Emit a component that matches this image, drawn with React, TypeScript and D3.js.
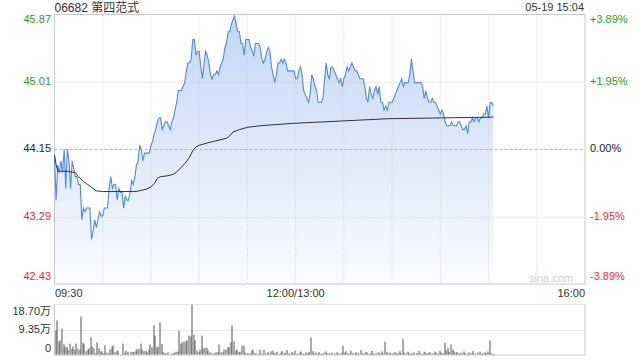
import React from "react";
import * as d3 from "d3";

// ---------- data ----------
const title = "06682 第四范式";
const stamp = "05-19 15:04";
const prevClose = 44.15;
const priceTicks = [45.87, 45.01, 44.15, 43.29, 42.43];
const pctTicks = ["+3.89%", "+1.95%", "0.00%", "-1.95%", "-3.89%"];
const timeLabels = ["09:30", "12:00/13:00", "16:00"];
const timeLabelMinutes = [0, 150, 330];
const sessionMinutes = 330;
const volTicks = [18.7, 9.35, 0];
const volTickLabels = ["18.70万", "9.35万", "0"];

// per-minute last price from 09:30
const prices = [
  44.05, 43.5, 43.95, 43.85, 44.0, 43.85, 44.15, 43.65, 44.15, 44.0,
  43.65, 44.0, 43.9, 43.8, 43.8, 43.7, 43.7, 43.25, 43.4, 43.35,
  43.4, 43.4, 43.4, 43.0, 43.1, 43.25, 43.15, 43.25, 43.35, 43.3,
  43.3, 43.4, 43.4, 43.4, 43.65, 43.8, 43.65, 43.7, 43.7, 43.5,
  43.65, 43.6, 43.6, 43.4, 43.55, 43.5, 43.5, 43.6, 43.75, 43.7,
  43.8, 43.95, 44.0, 44.2, 44.15, 44.0, 44.1, 44.1, 44.1, 44.1,
  44.2, 44.25, 44.35, 44.4, 44.5, 44.55, 44.55, 44.4, 44.45, 44.5,
  44.5, 44.45, 44.4, 44.5, 44.55, 44.65, 44.75, 44.9, 44.9, 44.9,
  44.95, 45.0, 45.15, 45.25, 45.25, 45.3, 45.55, 45.55, 45.35, 45.4,
  45.4, 45.2, 45.05, 45.25, 45.4, 45.35, 45.25, 45.1, 45.05, 45.1,
  45.1, 45.15, 45.1, 45.2, 45.25, 45.3, 45.45, 45.5, 45.65, 45.65,
  45.75, 45.8, 45.85, 45.75, 45.65, 45.65, 45.5, 45.5, 45.35, 45.55,
  45.55, 45.55, 45.45, 45.4, 45.35, 45.5, 45.5, 45.5, 45.45, 45.3,
  45.25, 45.3, 45.4, 45.45, 45.4, 45.2, 45.1, 45.0, 45.1, 45.25,
  45.25, 45.3, 45.25, 45.3, 45.25, 45.15, 45.15, 45.15, 45.15, 45.15,
  45.05, 45.05, 45.15, 45.2, 45.1, 44.9, 44.85, 44.8, 44.75, 44.85,
  45.1, 45.05, 44.95, 44.9, 44.75, 44.75, 44.75, 44.8, 45.05, 45.25,
  45.1, 45.05, 45.2, 45.2, 45.15, 45.1, 45.05, 45.0, 45.05, 44.95,
  45.05, 45.1, 45.2, 45.15, 45.2, 45.25, 45.2, 45.15, 45.15, 45.1,
  45.05, 45.05, 45.05, 44.95, 44.8, 44.75, 44.95, 44.85, 44.8, 44.9,
  44.95, 44.85, 44.95, 44.75, 44.75, 44.65, 44.7, 44.65, 44.75, 44.75,
  44.75, 44.8, 44.85, 44.9, 44.95, 45.0, 45.05, 44.95, 45.0, 45.0,
  45.0, 45.1, 45.3, 45.15, 45.0, 45.0, 45.0, 45.0, 45.0, 44.95,
  44.8, 44.9, 44.8, 44.75, 44.75, 44.8, 44.75, 44.75, 44.7, 44.65,
  44.6, 44.65, 44.6, 44.5, 44.45, 44.45, 44.45, 44.5, 44.45, 44.45,
  44.45, 44.5, 44.5, 44.45, 44.4, 44.4, 44.45, 44.35, 44.5, 44.5,
  44.55, 44.5, 44.55, 44.55, 44.5, 44.55, 44.55, 44.6, 44.6, 44.7,
  44.55, 44.75, 44.75, 44.7,
];

// average price line, read at these minutes
const avgMinutes = [0, 1, 2, 8, 13, 15, 18, 20, 22, 24, 26, 30, 50, 53, 57, 60, 62, 64, 66, 70, 74, 76, 78, 82, 84, 86, 88, 90, 95, 99, 103, 107, 109, 111, 115, 120, 128, 148, 168, 188, 208, 240, 273];
const avgPrices = [44.08, 43.95, 43.87, 43.87, 43.85, 43.8, 43.74, 43.71, 43.68, 43.65, 43.62, 43.61, 43.61, 43.62, 43.64, 43.67, 43.71, 43.78, 43.8, 43.81, 43.83, 43.86, 43.9, 43.99, 44.05, 44.13, 44.18, 44.2, 44.23, 44.25, 44.27, 44.29, 44.32, 44.37, 44.4, 44.43, 44.45, 44.48, 44.5, 44.52, 44.54, 44.55, 44.56];

// per-minute volume (万股)
const volumes = [
  9.1, 12.8, 5.0, 5.4, 9.7, 3.9, 2.9, 3.0, 1.9, 4.2,
  2.2, 3.2, 2.0, 4.2, 2.4, 2.0, 14.3, 4.6, 4.2, 1.4,
  2.0, 2.5, 6.5, 3.1, 2.5, 0.7, 4.6, 2.5, 1.5, 1.0,
  0.7, 3.6, 0.9, 0.5, 2.0, 3.1, 3.5, 1.0, 1.6, 1.4,
  0.25, 0.1, 4.2, 0.7, 1.6, 1.2, 0.25, 1.1, 1.2, 1.0,
  1.6, 2.2, 2.2, 4.2, 2.0, 1.5, 1.6, 1.0, 2.0, 3.9,
  2.9, 11.0, 7.2, 2.9, 3.1, 12.1, 4.1, 1.2, 0.7, 0.5,
  1.0, 0.1, 0.4, 0.6, 0.9, 1.2, 1.2, 8.9, 4.1, 4.7,
  5.0, 5.0, 5.4, 7.2, 6.9, 18.7, 7.5, 5.4, 1.6, 1.0,
  1.9, 7.2, 2.5, 2.7, 2.7, 1.6, 1.0, 0.5, 0.6, 0.5,
  1.0, 1.0, 3.9, 1.0, 0.9, 2.0, 2.0, 2.9, 2.9, 4.7,
  11.0, 5.1, 1.6, 2.1, 1.0, 1.2, 3.5, 3.4, 0.9, 0.4,
  0.7, 0.6, 1.6, 1.9, 0.6, 0.6, 0.4, 1.9, 0.6, 0.4,
  1.9, 0.6, 1.1, 0.5, 1.4, 1.6, 0.8,
  0.6, 1.2, 0.4, 0.9, 1.5, 0.5, 0.8, 1.9, 0.6, 0.4, 1.1, 0.7, 1.6, 0.5, 0.3, 0.9, 1.3, 0.6, 0.4, 1.0, 0.7, 1.2,
  6.5,
  1.4, 0.6, 0.9, 0.4, 1.1, 0.5, 0.3, 0.8, 1.3, 0.6, 0.4, 0.7, 0.9, 0.3, 0.5, 1.0, 0.6, 0.4, 0.8,
  3.4,
  0.9, 1.4, 0.6, 0.5, 1.6, 0.8, 0.4, 1.1, 0.7, 0.3, 1.8, 0.6, 0.5, 1.2, 0.9, 0.4, 0.7, 1.5, 0.6, 0.3, 0.8, 1.0, 0.5, 1.3, 0.7,
  4.9,
  1.2, 0.6, 0.9, 0.4, 0.7, 1.1, 0.5, 0.8, 1.4, 0.6,
  5.9,
  0.9, 0.5, 1.2, 0.7, 0.4, 0.6, 1.0, 0.3, 0.8, 1.5, 0.6, 0.4, 0.9, 1.2, 0.5, 0.7, 1.1, 0.4, 0.6, 1.3, 0.8, 0.5, 1.6, 0.9, 0.7,
  4.6, 1.8, 2.7, 1.2, 4.0,
  2.1, 1.4, 0.8, 1.1, 0.6, 0.9, 0.5, 1.3, 0.7, 0.4, 1.0, 0.6, 0.8, 1.5, 0.5, 0.3, 0.9, 1.2, 0.6, 0.4, 1.0, 0.7, 1.3,
  5.3, 0.6, 0.4, 0.3,
];

// ---------- layout ----------
const W = 640;
const H = 360;
const L = 54.5;
const R = 585;
const T = 14.5;
const B = 284;
const VT = 304.5;
const VB = 355;
const FONT = "'Liberation Sans', Arial, 'Noto Sans CJK SC', sans-serif";
const UP = "#1f9e1f";
const DOWN = "#ee2b2b";
const GRID = "#cfcfcf";

export default function App() {
  const x = d3.scaleLinear().domain([0, sessionMinutes]).range([L, R]);
  const y = d3.scaleLinear().domain([priceTicks[4], priceTicks[0]]).range([B, T]);
  const yv = d3.scaleLinear().domain([0, volTicks[0]]).range([VB, VT]);

  const line = d3.line<number>().x((_, i) => x(i)).y((d) => y(d));
  const area = d3.area<number>().x((_, i) => x(i)).y0(B).y1((d) => y(d));
  const avgLine = d3
    .line<number>()
    .x((_, i) => x(avgMinutes[i]))
    .y((d) => y(d));

  const vGrid = d3.range(30, sessionMinutes, 30);

  const colorFor = (i: number) => (i < 2 ? UP : i === 2 ? "#222" : DOWN);
  const clampY = (v: number) => Math.min(Math.max(y(v), T + 6), B - 7);

  return (
    <svg
      width={W}
      height={H}
      style={{ position: "absolute", left: 0, top: 0, background: "#fff" }}
      fontFamily={FONT}
    >
      <defs>
        <linearGradient id="fillGrad" gradientUnits="userSpaceOnUse" x1="0" y1={T} x2="0" y2={B}>
          <stop offset="0" stopColor="#c4d6f6" />
          <stop offset="1" stopColor="#fafcff" />
        </linearGradient>
      </defs>

      {/* area + grid */}
      <path d={area(prices) || ""} fill="url(#fillGrad)" />
      {vGrid.map((m) => (
        <line key={m} x1={x(m)} x2={x(m)} y1={T} y2={B} stroke={GRID} strokeDasharray="1,2" />
      ))}
      {priceTicks.slice(1, 4).map((p) => (
        <line
          key={p}
          x1={L}
          x2={R}
          y1={Math.round(y(p)) + 0.5}
          y2={Math.round(y(p)) + 0.5}
          stroke={p === prevClose ? "#b5b5b5" : GRID}
          strokeDasharray={p === prevClose ? "3,2" : "1,2"}
        />
      ))}
      <rect x={L} y={T} width={R - L} height={B - T} fill="none" stroke="#c8c8c8" />

      <text x={R - 12} y={B - 2} fontSize={11} fill="#d0d0d0" textAnchor="end">
        sina.com
      </text>

      {/* lines */}
      <path d={line(prices) || ""} fill="none" stroke="#4f88ea" strokeWidth={1.1} />
      <path d={avgLine(avgPrices) || ""} fill="none" stroke="#333" strokeWidth={1} />

      {/* header */}
      <text x={L} y={12} fontSize={12} fill="#333">
        {title}
      </text>
      <text x={R - 1} y={10.5} fontSize={11} fill="#333" textAnchor="end">
        {stamp}
      </text>

      {/* price axes */}
      {priceTicks.map((p, i) => (
        <text
          key={"l" + p}
          x={51}
          y={clampY(p)}
          fontSize={11}
          fill={colorFor(i)}
          textAnchor="end"
          dominantBaseline="middle"
        >
          {p.toFixed(2)}
        </text>
      ))}
      {pctTicks.map((t, i) => (
        <text
          key={"r" + t}
          x={590}
          y={clampY(priceTicks[i])}
          fontSize={11}
          fill={colorFor(i)}
          dominantBaseline="middle"
        >
          {t}
        </text>
      ))}

      {/* time axis */}
      {timeLabels.map((t, i) => (
        <text
          key={t}
          x={x(timeLabelMinutes[i]) + (i === 0 ? 0.5 : 0)}
          y={297}
          fontSize={11}
          fill="#333"
          textAnchor={i === 0 ? "start" : i === 1 ? "middle" : "end"}
        >
          {t}
        </text>
      ))}

      {/* volume panel */}
      <line x1={L} x2={R} y1={VT} y2={VT} stroke={GRID} strokeDasharray="1,1" />
      <line x1={L} x2={R} y1={Math.round(yv(volTicks[1])) + 0.5} y2={Math.round(yv(volTicks[1])) + 0.5} stroke={GRID} strokeDasharray="1,1" />
      <line x1={L} x2={L} y1={VT} y2={VB} stroke="#c8c8c8" />
      <line x1={R} x2={R} y1={VT} y2={VB} stroke="#c8c8c8" />
      <line x1={L} x2={R} y1={VB} y2={VB} stroke="#c8c8c8" />
      {volumes.map((v, i) => (
        <rect
          key={i}
          x={Math.round(x(i)) + 0.5}
          y={yv(v)}
          width={1}
          height={VB - 0.5 - yv(v)}
          fill="#555"
        />
      ))}
      {volTicks.map((v, i) => (
        <text
          key={"v" + v}
          x={51}
          y={i === 0 ? 312 : i === 1 ? 330 : 349}
          fontSize={11}
          fill="#333"
          textAnchor="end"
          dominantBaseline="middle"
        >
          {volTickLabels[i]}
        </text>
      ))}
    </svg>
  );
}
